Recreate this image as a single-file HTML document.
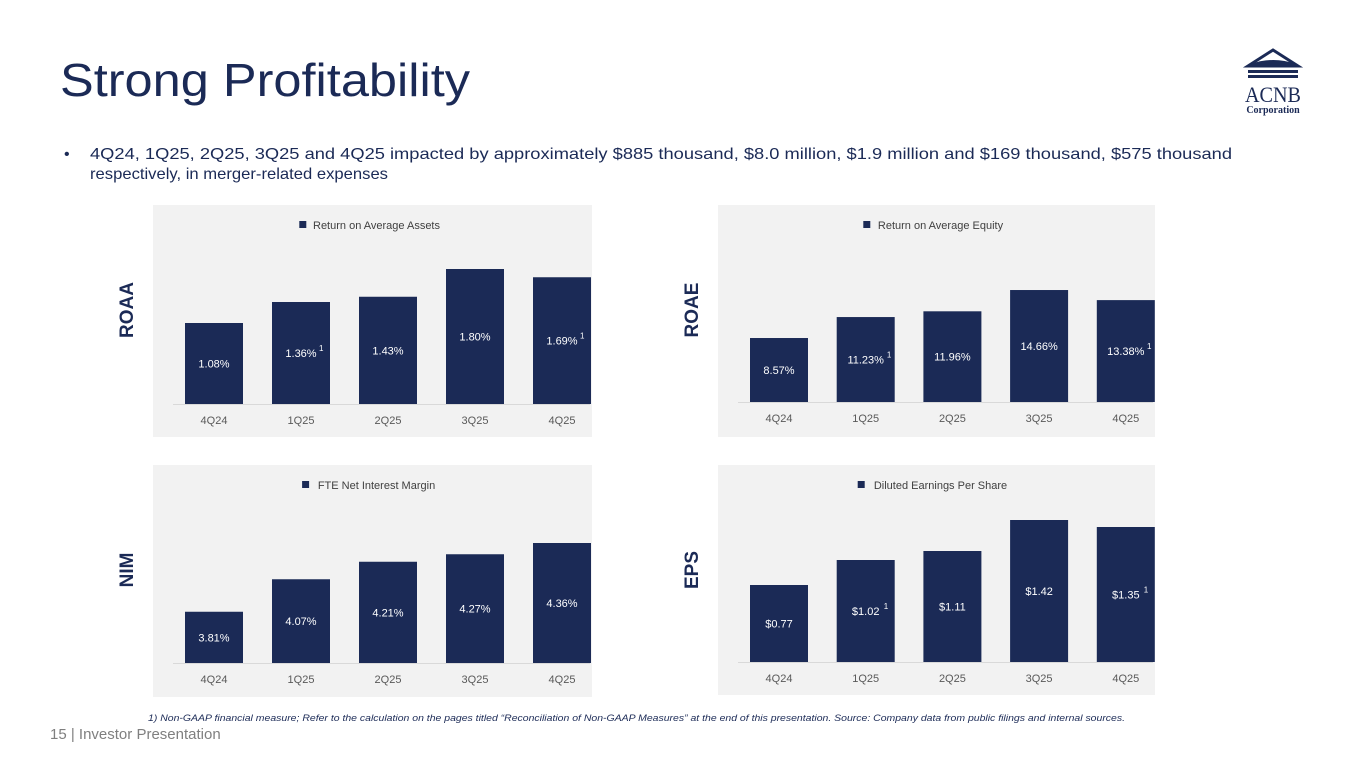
<!DOCTYPE html>
<html><head><meta charset="utf-8"><style>
html,body{margin:0;padding:0;background:#fff;}
svg{display:block;font-family:"Liberation Sans",sans-serif;}
</style></head><body>
<svg id="s" width="1365" height="768" viewBox="0 0 1365 768">
<text x="60" y="96" font-size="46" fill="#1b2a56" textLength="410" lengthAdjust="spacingAndGlyphs">Strong Profitability</text>
<g>
<path d="M1248 66 L1273 50 L1298 66 Z" fill="none" stroke="#1b2a56" stroke-width="3"/>
<path d="M1251 64 Q1273 56 1296 64 L1296 67 L1251 67 Z" fill="#1b2a56"/>
<rect x="1248" y="70" width="50" height="3" fill="#1b2a56"/>
<rect x="1248" y="75" width="50" height="3" fill="#1b2a56"/>
<text x="1273" y="102" font-family="Liberation Serif,serif" font-size="22" fill="#1b2a56" text-anchor="middle" textLength="56" lengthAdjust="spacingAndGlyphs">ACNB</text>
<text x="1273" y="113" font-family="Liberation Serif,serif" font-size="10" font-weight="bold" fill="#1b2a56" text-anchor="middle">Corporation</text>
</g>
<g fill="#1b2a56" font-size="16">
<text x="64" y="159">•</text>
<text x="90" y="159" textLength="1142" lengthAdjust="spacingAndGlyphs">4Q24, 1Q25, 2Q25, 3Q25 and 4Q25 impacted by approximately $885 thousand, $8.0 million, $1.9 million and $169 thousand, $575 thousand</text>
<text x="90" y="179" textLength="298" lengthAdjust="spacingAndGlyphs">respectively, in merger-related expenses</text>
</g>
<text x="148" y="721" font-size="9" font-style="italic" fill="#1b2a56" textLength="977" lengthAdjust="spacingAndGlyphs">1) Non-GAAP financial measure; Refer to the calculation on the pages titled “Reconciliation of Non-GAAP Measures” at the end of this presentation. Source: Company data from public filings and internal sources.</text>
<text x="50" y="739" font-size="15" fill="#7f7f7f">15  | Investor Presentation</text>
<g id="charts"></g>
</svg>
<script>
const categories=["4Q24","1Q25","2Q25","3Q25","4Q25"];
const roaaValues=[1.08,1.36,1.43,1.80,1.69];
const roaaLabels=["1.08%","1.36%","1.43%","1.80%","1.69%"];
const roaeValues=[8.57,11.23,11.96,14.66,13.38];
const roaeLabels=["8.57%","11.23%","11.96%","14.66%","13.38%"];
const nimValues=[3.81,4.07,4.21,4.27,4.36];
const nimLabels=["3.81%","4.07%","4.21%","4.27%","4.36%"];
const epsValues=[0.77,1.02,1.11,1.42,1.35];
const epsLabels=["$0.77","$1.02","$1.11","$1.42","$1.35"];
const footnoted=[false,true,false,false,true];
const noFootnotes=[false,false,false,false,false];
const NS="http://www.w3.org/2000/svg";
const root=document.getElementById('charts');
function mk(tag,attrs,parent){const e=document.createElementNS(NS,tag);for(const k in attrs)e.setAttribute(k,attrs[k]);parent.appendChild(e);return e;}
function chart(cfg){
 const g=mk('g',{},root);
 
 
 const bg=mk('rect',{x:cfg.x,y:cfg.y,width:cfg.w,height:cfg.h,fill:'#f2f2f2'},g);
 
 
 const side=mk('text',{x:0,y:0,'font-size':19,'font-weight':'bold',fill:'#1b2a56','text-anchor':'middle',transform:`translate(${cfg.x-20},${cfg.y+105}) rotate(-90)`},g);
 side.textContent=cfg.side;
 
 
 const lg=mk('g',{},g);
 
 
 const cx=cfg.x+cfg.w/2;
 const lt=mk('text',{x:cx+4,y:cfg.y+24,'font-size':11,fill:'#404040','text-anchor':'middle'},lg);
 lt.textContent=cfg.legend;
 const tw=cfg.legend.length*5.6;
 mk('rect',{x:cx+4-tw/2-10,y:cfg.y+16,width:7,height:7,fill:'#1b2a56'},lg);
 const base=cfg.y+cfg.baseOff;
 const ax=mk('line',{x1:cfg.x+20,x2:cfg.x+cfg.w-2,y1:base+0.5,y2:base+0.5,stroke:'#d9d9d9'},g);
 
 
 const step=cfg.step,bw=58;
 const yv=v=>base-(v-cfg.min)*cfg.scale;
 categories.forEach((c,i)=>{
  const bx=cfg.x+32+i*step;
  const top=yv(cfg.values[i]);
  const b=mk('rect',{x:bx,y:top,width:bw,height:base-top,fill:'#1b2a56'},g);
  
  
  const mid=(top+base)/2+4;
  const t=mk('text',{x:bx+bw/2,y:mid,'font-size':11,fill:'#fff','text-anchor':'middle'},g);
  t.textContent=cfg.labels[i];
  
  
  if(cfg.notes[i]){
   const f=mk('text',{x:bx+bw/2+(cfg.labels[i].length*3.2)+2,y:mid-6,'font-size':8,fill:'#fff'},g);
   f.textContent='1';
   
   
  }
  const ct=mk('text',{x:bx+bw/2,y:base+20,'font-size':11,fill:'#595959','text-anchor':'middle'},g);
  ct.textContent=c;
  
  
 });
}
chart({name:'roaa-chart',side:'ROAA',legend:'Return on Average Assets',x:153,y:205,w:439,h:232,baseOff:199,step:87,min:0,scale:75,values:roaaValues,labels:roaaLabels,notes:footnoted});
chart({name:'roae-chart',side:'ROAE',legend:'Return on Average Equity',x:718,y:205,w:437,h:232,baseOff:197,step:86.7,min:0.45,scale:7.88,values:roaeValues,labels:roaeLabels,notes:footnoted});
chart({name:'nim-chart',side:'NIM',legend:'FTE Net Interest Margin',x:153,y:465,w:439,h:232,baseOff:198,step:87,min:3.4,scale:125,values:nimValues,labels:nimLabels,notes:noFootnotes});
chart({name:'eps-chart',side:'EPS',legend:'Diluted Earnings Per Share',x:718,y:465,w:437,h:230,baseOff:197,step:86.7,min:0,scale:100,values:epsValues,labels:epsLabels,notes:footnoted});
</script>
</body></html>
